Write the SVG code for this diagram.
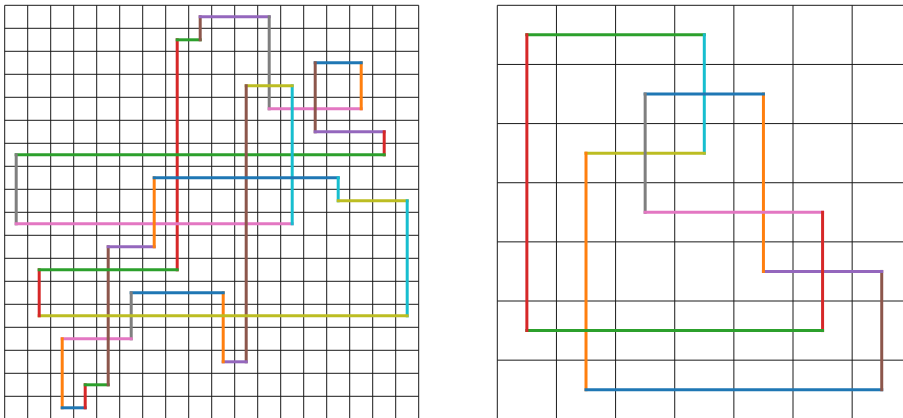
<svg xmlns="http://www.w3.org/2000/svg" width="903" height="418" viewBox="0 0 903 418">
<style>
.grid{stroke:#1a1a1a;stroke-width:1;fill:none}
.seg{fill:none;stroke-width:3;stroke-linecap:square}
.blue{stroke:#1f77b4}.orange{stroke:#ff7f0e}.green{stroke:#2ca02c}.red{stroke:#d62728}.purple{stroke:#9467bd}
.brown{stroke:#8c564b}.pink{stroke:#e377c2}.gray{stroke:#7f7f7f}.olive{stroke:#bcbd22}.cyan{stroke:#17becf}
</style>
<rect width="903" height="418" fill="#fff"/>
<g id="left-grid" class="grid">
<path d="M4.7 5.3V419.3M27.7 5.3V419.3M50.7 5.3V419.3M73.7 5.3V419.3M96.7 5.3V419.3M119.7 5.3V419.3M142.7 5.3V419.3M165.7 5.3V419.3M188.7 5.3V419.3M211.7 5.3V419.3M234.7 5.3V419.3M257.7 5.3V419.3M280.7 5.3V419.3M303.7 5.3V419.3M326.7 5.3V419.3M349.7 5.3V419.3M372.7 5.3V419.3M395.7 5.3V419.3M418.7 5.3V419.3"/>
<path d="M4.7 5.3H418.7M4.7 28.3H418.7M4.7 51.3H418.7M4.7 74.3H418.7M4.7 97.3H418.7M4.7 120.3H418.7M4.7 143.3H418.7M4.7 166.3H418.7M4.7 189.3H418.7M4.7 212.3H418.7M4.7 235.3H418.7M4.7 258.3H418.7M4.7 281.3H418.7M4.7 304.3H418.7M4.7 327.3H418.7M4.7 350.3H418.7M4.7 373.3H418.7M4.7 396.3H418.7"/>
</g>
<g id="right-grid" class="grid">
<path d="M497.3 5.3V419.3M556.44 5.3V419.3M615.59 5.3V419.3M674.73 5.3V419.3M733.87 5.3V419.3M793.01 5.3V419.3M852.16 5.3V419.3"/>
<path d="M497.3 5.3H911.3M497.3 64.44H911.3M497.3 123.59H911.3M497.3 182.73H911.3M497.3 241.87H911.3M497.3 301.01H911.3M497.3 360.16H911.3"/>
</g>
<g id="left-path" transform="translate(16.2,16.8)">
<path class="seg red" d="M161 253V23"/>
<path class="seg green" d="M161 23H184"/>
<path class="seg brown" d="M184 23V0"/>
<path class="seg purple" d="M184 0H253"/>
<path class="seg gray" d="M253 0V92"/>
<path class="seg pink" d="M253 92H345"/>
<path class="seg orange" d="M345 92V46"/>
<path class="seg blue" d="M345 46H299"/>
<path class="seg brown" d="M299 46V115"/>
<path class="seg purple" d="M299 115H368"/>
<path class="seg red" d="M368 115V138"/>
<path class="seg green" d="M368 138H0"/>
<path class="seg gray" d="M0 138V207"/>
<path class="seg pink" d="M0 207H276"/>
<path class="seg cyan" d="M276 207V69"/>
<path class="seg olive" d="M276 69H230"/>
<path class="seg brown" d="M230 69V345"/>
<path class="seg purple" d="M230 345H207"/>
<path class="seg orange" d="M207 345V276"/>
<path class="seg blue" d="M207 276H115"/>
<path class="seg gray" d="M115 276V322"/>
<path class="seg pink" d="M115 322H46"/>
<path class="seg orange" d="M46 322V391"/>
<path class="seg blue" d="M46 391H69"/>
<path class="seg red" d="M69 391V368"/>
<path class="seg green" d="M69 368H92"/>
<path class="seg brown" d="M92 368V230"/>
<path class="seg purple" d="M92 230H138"/>
<path class="seg orange" d="M138 230V161"/>
<path class="seg blue" d="M138 161H322"/>
<path class="seg cyan" d="M322 161V184"/>
<path class="seg olive" d="M322 184H391"/>
<path class="seg cyan" d="M391 184V299"/>
<path class="seg olive" d="M391 299H23"/>
<path class="seg red" d="M23 299V253"/>
<path class="seg green" d="M23 253H161"/>
</g>
<g id="right-path" transform="translate(526.87,34.87)">
<path class="seg green" d="M0 0H177.43"/>
<path class="seg cyan" d="M177.43 0V118.29"/>
<path class="seg olive" d="M177.43 118.29H59.14"/>
<path class="seg orange" d="M59.14 118.29V354.86"/>
<path class="seg blue" d="M59.14 354.86H354.86"/>
<path class="seg brown" d="M354.86 354.86V236.57"/>
<path class="seg purple" d="M354.86 236.57H236.57"/>
<path class="seg orange" d="M236.57 236.57V59.14"/>
<path class="seg blue" d="M236.57 59.14H118.29"/>
<path class="seg gray" d="M118.29 59.14V177.43"/>
<path class="seg pink" d="M118.29 177.43H295.71"/>
<path class="seg red" d="M295.71 177.43V295.71"/>
<path class="seg green" d="M295.71 295.71H0"/>
<path class="seg red" d="M0 295.71V0"/>
</g>
</svg>
